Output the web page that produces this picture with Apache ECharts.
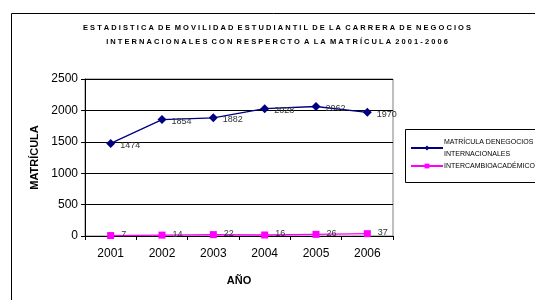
<!DOCTYPE html>
<html>
<head>
<meta charset="utf-8">
<script src="https://cdn.jsdelivr.net/npm/echarts@6/dist/echarts.min.js"></script>
<style>
  html, body { margin: 0; padding: 0; background: #fff; }
  #chart { width: 535px; height: 300px; }
</style>
</head>
<body>
<div id="chart"></div>
<script>
// datos
const years = ['2001', '2002', '2003', '2004', '2005', '2006']
const matricula = [1474, 1854, 1882, 2028, 2062, 1970]
const intercambio = [7, 14, 22, 16, 26, 37]
const yTicks = [0, 500, 1000, 1500, 2000, 2500]

const nombreMatricula = 'MATRÍCULA DENEGOCIOS INTERNACIONALES'
const nombreIntercambio = 'INTERCAMBIOACADÉMICO'

const myChart = echarts.init(document.getElementById('chart'))

const option = {
  backgroundColor: '#fff',
  animation: false,
  textStyle: { fontFamily: 'Liberation Sans, Arial, sans-serif' },
  title: {
    text: 'E S T A D I S T I C A  D E  M O V I L I D A D  E S T U D I A N T I L  D E  L A  C A R R E R A  D E  N E G O C I O S\nI N T E R N A C I O N A L E S  C O N  R E S P E R C T O  A  L A  M A T R Í C U L A  2 0 0 1 - 2 0 0 6',
    left: 272,
    textAlign: 'center',
    top: 16,
    textStyle: { fontSize: 7.5, fontWeight: 'bold', color: '#000', lineHeight: 14 }
  },
  graphic: [
    {
      type: 'rect',
      shape: { x: 11.5, y: 13.5, width: 540, height: 300 },
      style: { fill: 'none', stroke: '#000', lineWidth: 1 },
      silent: true
    },
    {
      type: 'rect',
      shape: { x: 405.5, y: 129.5, width: 140, height: 53 },
      style: { fill: '#fff', stroke: '#000', lineWidth: 1 },
      silent: true
    }
  ],
  legend: {
    orient: 'vertical',
    left: 405,
    top: 131,
    itemWidth: 32,
    itemHeight: 6,
    itemGap: 0,
    data: [nombreMatricula, nombreIntercambio],
    formatter: function (name) {
      return name === nombreMatricula ? 'MATRÍCULA DENEGOCIOS\nINTERNACIONALES' : name
    },
    textStyle: { fontSize: 7, color: '#000', lineHeight: 12, padding: [0, 0, 0, -4] }
  },
  grid: {
    left: 85,
    right: 142,
    top: 79,
    bottom: 64,
    show: true,
    borderColor: '#808080',
    borderWidth: 1
  },
  xAxis: {
    type: 'category',
    data: years,
    boundaryGap: true,
    name: 'AÑO',
    nameLocation: 'middle',
    nameGap: 39,
    nameTextStyle: { fontSize: 11, fontWeight: 'bold', color: '#000' },
    axisLine: { lineStyle: { color: '#000' } },
    axisTick: { show: true, length: 4, lineStyle: { color: '#000' } },
    axisLabel: { fontSize: 12, color: '#000', margin: 12 }
  },
  yAxis: {
    type: 'value',
    min: 0,
    max: 2500,
    interval: 500,
    name: 'MATRÍCULA',
    nameLocation: 'middle',
    nameGap: 45,
    nameTextStyle: { fontSize: 11, fontWeight: 'bold', color: '#000' },
    axisLine: { show: true, lineStyle: { color: '#000' } },
    axisTick: { show: true, length: 4, lineStyle: { color: '#000' } },
    axisLabel: {
      fontSize: 12,
      color: '#000',
      margin: 7,
      formatter: function (v) { return yTicks.indexOf(v) >= 0 ? String(v) : '' }
    },
    splitLine: { show: true, lineStyle: { color: '#000', width: 1 } }
  },
  series: [
    {
      name: nombreMatricula,
      type: 'line',
      data: matricula,
      color: '#000080',
      symbol: 'diamond',
      symbolSize: 9,
      lineStyle: { width: 1.3, color: '#000080' },
      itemStyle: { color: '#000080' },
      label: { show: true, position: 'right', distance: 5, fontSize: 9, color: '#333', offset: [0, 2] }
    },
    {
      name: nombreIntercambio,
      type: 'line',
      data: intercambio,
      color: '#FF00FF',
      symbol: 'rect',
      symbolSize: 7,
      lineStyle: { width: 1.3, color: '#FF00FF' },
      itemStyle: { color: '#FF00FF' },
      label: { show: true, position: 'right', distance: 7, fontSize: 9, color: '#333', offset: [0, -1] }
    }
  ]
}

myChart.setOption(option)
</script>
</body>
</html>
